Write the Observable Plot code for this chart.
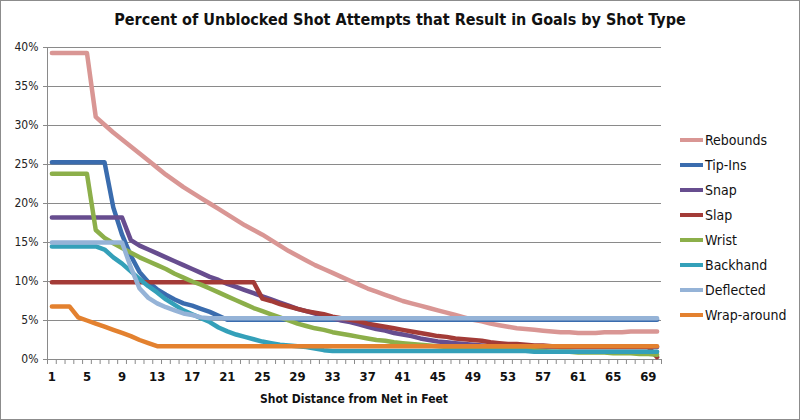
<!DOCTYPE html>
<html>
<head>
<meta charset="utf-8">
<script src="https://cdn.jsdelivr.net/npm/d3@7"></script>
<script src="https://cdn.jsdelivr.net/npm/@observablehq/plot@0.6"></script>
<style>
  html, body { margin: 0; padding: 0; background: #fff; }
  #wrap { position: relative; width: 800px; height: 420px; overflow: hidden;
          font-family: "DejaVu Sans Condensed", "DejaVu Sans", sans-serif; font-stretch: condensed; }
  #frame { position: absolute; left: 0; top: 0; width: 800px; height: 420px; box-sizing: border-box;
           border: 1px solid #8c8c8c; pointer-events: none; }
  #title { position: absolute; left: 0; width: 800px; top: 10px; text-align: center;
           font-size: 16px; font-weight: bold; color: #111; }
  #xlabel { position: absolute; left: 47px; width: 614px; top: 392px; text-align: center;
            font-size: 12px; font-weight: bold; color: #111; }
  #legend { position: absolute; left: 680px; top: 127px; }
  .item { display: flex; align-items: center; height: 25px; font-size: 14px; color: #111; }
  .sw { width: 23px; height: 4px; margin-right: 2px; }
  #chart { position: absolute; left: 0; top: 0; }
</style>
</head>
<body>
<div id="wrap">
  <div id="chart"></div>
  <div id="title"></div>
  <div id="xlabel"></div>
  <div id="legend"></div>
  <div id="frame"></div>
</div>
<script>
const titleText = "Percent of Unblocked Shot Attempts that Result in Goals by Shot Type";
const xLabelText = "Shot Distance from Net in Feet";
const seriesNames = ["Rebounds", "Tip-Ins", "Snap", "Slap", "Wrist", "Backhand", "Deflected", "Wrap-around"];
const seriesColors = ["#D99694", "#3A6CAE", "#674D8F", "#A33B37", "#8CAF4A", "#34A0B9", "#95B3D7", "#E3812F"];
const distances = d3.range(1, 71);
const xTickLabels = [1, 5, 9, 13, 17, 21, 25, 29, 33, 37, 41, 45, 49, 53, 57, 61, 65, 69];
const yTickValues = [0, 5, 10, 15, 20, 25, 30, 35, 40];

const rebounds = [39.3,39.3,39.3,39.3,39.3,
  31.1,30.1,29.1,28.2,27.3,26.4,25.5,24.6,23.7,22.9,
  22.1,21.4,20.7,20.0,19.3,18.6,17.9,17.2,16.6,16.0,
  15.3,14.6,13.9,13.3,12.7,12.1,11.6,11.1,10.6,10.1,
  9.6,9.1,8.7,8.3,7.9,7.5,7.2,6.9,6.6,6.3,
  6.0,5.7,5.4,5.1,4.9,4.6,4.4,4.2,4.0,3.9,
  3.8,3.7,3.6,3.5,3.5,3.4,3.4,3.4,3.5,3.5,
  3.5,3.6,3.6,3.6,3.6];
const tipIns = [25.3,25.3,25.3,25.3,25.3,25.3,25.3,
  19.5,16.0,13.3,11.2,9.9,9.0,8.3,7.7,7.2,6.9,6.5,6.1,5.6,5.1,
  5.1,5.1,5.1,5.1,5.1,5.1,5.1,5.1,5.1,5.1,5.1,5.1,5.1,5.1,5.1,5.1,5.1,5.1,5.1,5.1,
  5.1,5.1,5.1,5.1,5.1,5.1,5.1,5.1,5.1,5.1,5.1,5.1,5.1,5.1,5.1,5.1,5.1,5.1,5.1,5.1,
  5.1,5.1,5.1,5.1,5.1,5.1,5.1,5.1,5.1];
const snap = [18.2,18.2,18.2,18.2,18.2,18.2,18.2,18.2,18.2,
  15.3,14.6,14.1,13.6,13.1,12.6,12.1,11.6,11.1,10.6,10.2,
  9.7,9.3,8.9,8.5,8.1,7.7,7.3,6.9,6.5,6.2,
  5.9,5.6,5.3,5.0,4.8,4.5,4.2,3.9,3.7,3.4,
  3.2,3.0,2.7,2.5,2.3,2.2,2.1,2.0,1.9,1.8,
  1.7,1.7,1.6,1.6,1.6,1.6,1.6,1.6,1.6,1.6,
  1.6,1.6,1.6,1.6,1.6,1.6,1.6,1.6,1.6,1.6];
const slap = [9.9,9.9,9.9,9.9,9.9,9.9,9.9,9.9,9.9,9.9,9.9,9.9,
  9.9,9.9,9.9,9.9,9.9,9.9,9.9,9.9,9.9,9.9,9.9,9.9,
  7.8,7.5,7.1,6.8,6.5,6.2,6.0,5.8,5.5,5.3,5.1,
  4.9,4.6,4.4,4.2,4.0,3.8,3.6,3.4,3.2,3.0,
  2.9,2.7,2.6,2.5,2.4,2.2,2.1,2.0,2.0,1.9,
  1.8,1.8,1.7,1.6,1.6,1.6,1.6,1.6,1.6,1.6,
  1.6,1.6,1.6,1.6,0.3];
const wrist = [23.8,23.8,23.8,23.8,23.8,
  16.6,15.6,14.9,14.3,13.7,13.1,12.6,12.1,11.6,11.0,
  10.5,10.0,9.6,9.1,8.6,8.1,7.6,7.1,6.6,6.2,
  5.8,5.4,5.0,4.6,4.3,4.0,3.8,3.5,3.3,3.1,
  2.9,2.7,2.5,2.4,2.2,2.1,2.0,1.9,1.8,1.7,
  1.6,1.6,1.5,1.5,1.5,1.4,1.4,1.4,1.3,1.3,
  1.2,1.1,1.0,1.0,1.0,0.9,0.9,0.9,0.9,0.8,
  0.8,0.8,0.7,0.7,0.6];
const backhand = [14.5,14.5,14.5,14.5,14.5,14.5,
  14.1,13.1,12.3,11.3,10.3,9.4,8.6,7.7,7.0,
  6.3,5.8,5.3,4.8,4.1,3.6,3.2,2.9,2.6,2.3,
  2.1,1.9,1.8,1.7,1.6,1.4,1.2,1.1,1.1,1.1,
  1.1,1.1,1.1,1.1,1.1,1.1,1.1,1.1,1.1,1.1,
  1.1,1.1,1.1,1.1,1.1,1.1,1.1,1.1,1.1,1.1,
  1.0,1.0,1.0,1.0,1.0,1.0,1.0,1.0,1.0,1.0,
  1.0,1.0,1.0,1.0,1.0];
const deflected = [15.0,15.0,15.0,15.0,15.0,15.0,15.0,15.0,15.0,
  11.8,9.1,7.9,7.2,6.7,6.3,5.9,5.7,5.4,
  5.3,5.3,5.3,5.3,5.3,5.3,5.3,5.3,5.3,5.3,5.3,5.3,5.3,5.3,5.3,5.3,5.3,5.3,5.3,5.3,5.3,5.3,
  5.3,5.3,5.3,5.3,5.3,5.3,5.3,5.3,5.3,5.3,5.3,5.3,5.3,5.3,5.3,5.3,5.3,5.3,5.3,5.3,
  5.3,5.3,5.3,5.3,5.3,5.3,5.3,5.3,5.3,5.3];
const wrapAround = [6.8,6.8,6.8,
  5.4,5.0,4.6,4.2,3.8,3.4,3.0,2.5,2.1,1.7,
  1.7,1.7,1.7,1.7,1.7,1.7,1.7,1.7,1.7,1.7,1.7,1.7,1.7,1.7,1.7,1.7,1.7,1.7,1.7,1.7,
  1.7,1.7,1.7,1.7,1.7,1.7,1.7,1.7,1.7,1.7,1.7,1.7,1.7,1.7,1.7,1.7,1.7,1.7,1.7,1.7,
  1.7,1.7,1.7,1.7,1.7,1.7,1.7,1.7,1.7,1.7,1.7,1.7,1.7,1.7,1.7,1.7,1.7];

const seriesValues = [rebounds, tipIns, snap, slap, wrist, backhand, deflected, wrapAround];
const data = seriesNames.flatMap((name, i) =>
  distances.map((d, j) => ({series: name, distance: d, value: seriesValues[i][j]})));

const grey = "#8a8a8a";
const plot = Plot.plot({
  width: 800,
  height: 420,
  marginLeft: 47,
  marginRight: 139,
  marginTop: 47,
  marginBottom: 61,
  style: {fontFamily: '"DejaVu Sans Condensed", "DejaVu Sans", sans-serif', fontStretch: "condensed", background: "transparent"},
  x: {domain: [0.5, 70.5]},
  y: {domain: [0, 40]},
  color: {domain: seriesNames, range: seriesColors},
  marks: [
    Plot.gridY(yTickValues.filter(v => v > 0), {stroke: grey, strokeOpacity: 1, strokeWidth: 1}),
    Plot.axisY(yTickValues, {tickFormat: d => d + "%", tickSize: 4, tickPadding: 5, stroke: grey,
      fontSize: 12, fill: "#222", label: null}),
    Plot.axisX(d3.range(0.5, 71, 1), {tickSize: 5, stroke: grey, tickFormat: () => "", label: null}),
    Plot.axisX(xTickLabels, {tickSize: 0, tickPadding: 12, fontSize: 13, fontWeight: "bold",
      fill: "#111", label: null}),
    Plot.ruleX([0.5], {stroke: grey}),
    Plot.ruleY([0], {stroke: grey}),
    Plot.line(data, {x: "distance", y: "value", z: "series", stroke: "series",
      strokeWidth: 4.5, strokeLinejoin: "round", strokeLinecap: "round"})
  ]
});
document.getElementById("chart").appendChild(plot);
document.getElementById("title").textContent = titleText;
document.getElementById("xlabel").textContent = xLabelText;
const legend = document.getElementById("legend");
seriesNames.forEach((name, i) => {
  const item = document.createElement("div");
  item.className = "item";
  const sw = document.createElement("div");
  sw.className = "sw";
  sw.style.background = seriesColors[i];
  const label = document.createElement("span");
  label.textContent = name;
  item.appendChild(sw);
  item.appendChild(label);
  legend.appendChild(item);
});
</script>
</body>
</html>
